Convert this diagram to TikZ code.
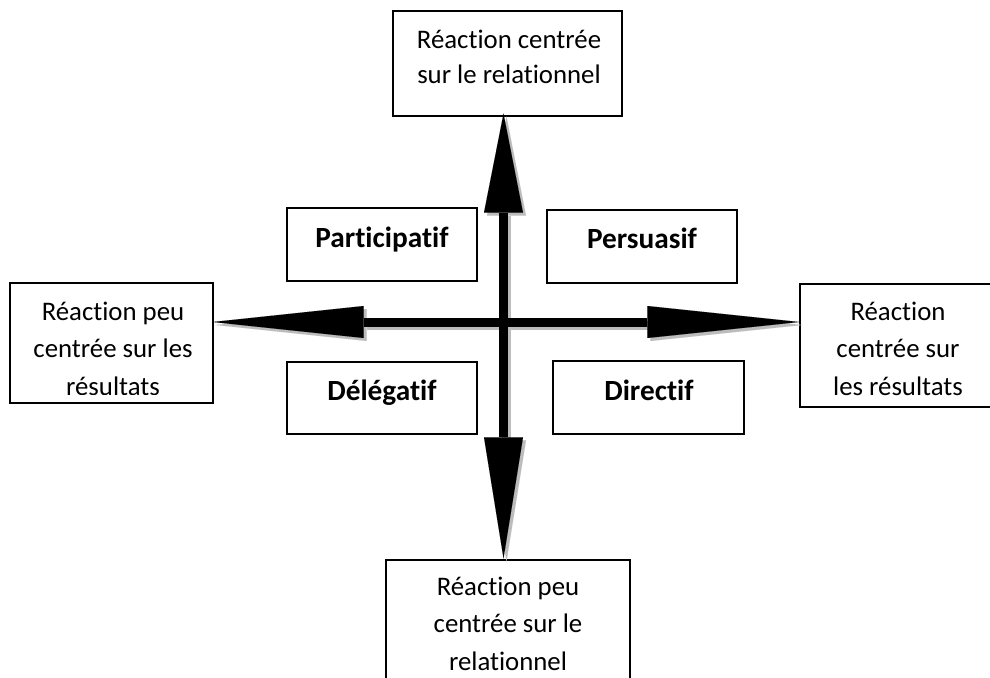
\documentclass[tikz,border=0pt]{standalone}
\usepackage{fontspec}
\setmainfont{Carlito}[Ligatures={NoCommon}]
\usetikzlibrary{arrows.meta}
\definecolor{shadowgrey}{HTML}{BCBCBC}
\begin{document}
\begin{tikzpicture}[x=1pt,y=-1pt,
  box/.style={draw=black, line width=1.3pt, fill=white, rectangle, inner sep=0pt},
  lbl/.style={inner sep=0pt, align=center, anchor=north, font=\fontsize{26.8}{37.5}\selectfont},
  toplbl/.style={inner sep=0pt, align=center, anchor=north, font=\fontsize{26.8}{35}\selectfont},
  blbl/.style={inner sep=0pt, anchor=base, font=\fontsize{29.3}{32}\selectfont\bfseries},
  axis/.style={line width=9pt, draw=black, fill=black},
  axisshadow/.style={line width=9pt, draw=shadowgrey, fill=shadowgrey},
  headU/.style={-{Triangle[length=99pt,width=39pt,line width=0.01pt]}, shorten >=-3pt},
  headD/.style={-{Triangle[length=121pt,width=39pt,line width=0.01pt]}, shorten >=1pt},
  headL/.style={-{Triangle[length=151pt,width=32pt,line width=0.01pt]}, shorten >=-1pt},
  headR/.style={-{Triangle[length=152pt,width=32pt,line width=0.01pt]}, shorten >=0pt},
]
\useasboundingbox (0,0) rectangle (990,677);
\clip (0,0) rectangle (990,677);

% boxes
\node[box, minimum width=229pt, minimum height=105pt] (top) at (507.5,63.5) {};
\node[box, minimum width=203pt, minimum height=120pt] (left) at (111.5,343) {};
\node[box, minimum width=196pt, minimum height=123pt] (right) at (898,345.5) {};
\node[box, minimum width=244pt, minimum height=140pt] (bot) at (508,630) {};
\node[box, minimum width=190pt, minimum height=73pt] (part) at (382,244.5) {};
\node[box, minimum width=190pt, minimum height=73pt] (pers) at (642,246.5) {};
\node[box, minimum width=190pt, minimum height=72pt] (dele) at (382,398) {};
\node[box, minimum width=191pt, minimum height=73pt] (dire) at (648.5,397.5) {};

% texts
\node[toplbl] (topT) at (509,23.5) {\strut Réaction centrée\\\strut sur le relationnel};
\begin{scope}
  \clip (11,284) rectangle (212,394.5);
  \node[lbl] (leftT) at (113,293.75) {\strut Réaction peu\\\strut centrée sur les\\\strut résultats};
\end{scope}
\node[lbl] (rightT) at (898,293.75) {\strut Réaction\\\strut centrée sur\\\strut les résultats};
\node[lbl] (botT) at (508,568.75) {\strut Réaction peu\\\strut centrée sur le\\\strut relationnel};
\node[blbl] (partT) at (382,247) {Participatif};
\node[blbl] (persT) at (642,248) {Persuasif};
\node[blbl] (deleT) at (382,400) {Délégatif};
\node[blbl] (direT) at (649,400) {Directif};

% centre of the axes
\coordinate (c) at (503.5,322);

% shadows
\begin{scope}[transform canvas={shift={(3,3)}}]
  \draw[axisshadow, headU] (c) -- (c |- top.south);
  \draw[axisshadow, headD] (c) -- (c |- bot.north);
  \draw[axisshadow, headL] (c) -- (c -| left.east);
  \draw[axisshadow, headR] (c) -- (c -| right.west);
\end{scope}

% axes
\draw[axis, headU] (c) -- (c |- top.south);
\draw[axis, headD] (c) -- (c |- bot.north);
\draw[axis, headL] (c) -- (c -| left.east);
\draw[axis, headR] (c) -- (c -| right.west);
\end{tikzpicture}
\end{document}
